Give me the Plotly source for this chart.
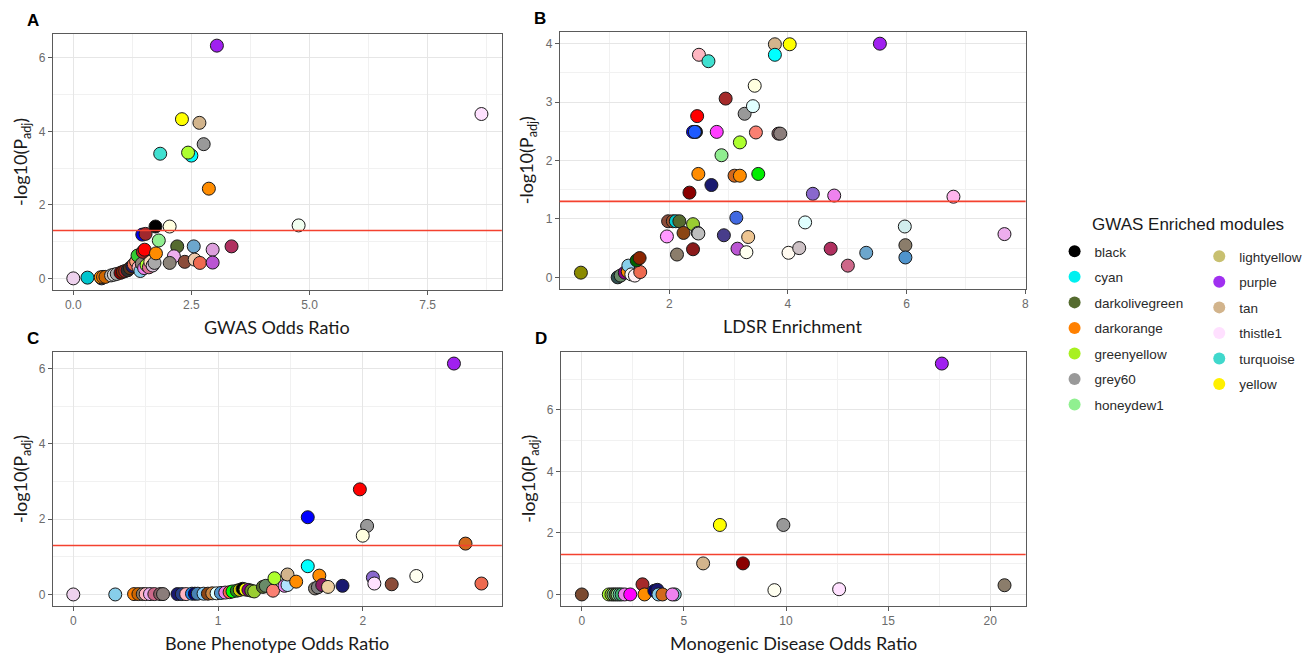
import plotly.graph_objects as go

# ---------------- data ----------------
THRESHOLD = 1.3  # -log10(0.05)

# Panel A: GWAS odds ratio
a_x = [0.00, 0.30, 0.60, 0.58, 0.63, 0.68, 0.80, 0.86, 0.92, 1.00, 1.05, 1.10, 1.15, 1.20, 1.25,
       1.28, 1.33, 1.36, 1.38, 1.42, 1.45, 1.50, 1.55, 1.60, 1.63, 1.68, 1.72, 1.47, 1.51, 1.75,
       1.46, 1.53, 1.74, 2.04, 1.81, 2.20, 2.55, 2.95, 3.35, 2.13, 2.04, 2.36, 2.57, 2.68, 2.95,
       1.84, 2.50, 2.43, 2.30, 2.67, 2.76, 2.87, 3.04, 4.77, 8.64]
a_y = [0.00, 0.02, 0.00, 0.03, 0.04, 0.04, 0.08, 0.10, 0.12, 0.15, 0.18, 0.20, 0.22, 0.28, 0.33,
       0.38, 0.46, 0.62, 0.30, 0.20, 0.40, 0.28, 0.36, 0.30, 0.45, 0.35, 0.42, 0.72, 0.78, 0.68,
       1.19, 1.21, 1.41, 1.41, 1.03, 0.87, 0.87, 0.78, 0.87, 0.60, 0.42, 0.45, 0.51, 0.42, 0.43,
       3.39, 3.34, 3.42, 4.33, 4.23, 3.65, 2.44, 6.33, 1.44, 4.47]
a_col = ['#EED2EE', '#00C5CD', '#27408B', '#FF8C00', '#FF7F00', '#CD6600', '#BEBEBE', '#D9D9D9',
         '#A9A9A9', '#8B0000', '#8B2500', '#B22222', '#2F2F2F', '#5C3317', '#191970', '#EE6A50',
         '#FFA07A', '#32CD32', '#FFB6C1', '#87CEEB', '#8B8378', '#EE82EE', '#ADFF2F', '#DB7093',
         '#FFDAB9', '#D8BFD8', '#A9A9A9', '#B22222', '#FF0000', '#FF8C00', '#0000EE', '#A0282D',
         '#000000', '#FFFFE0', '#90EE90', '#556B2F', '#6CA6CD', '#DDA0DD', '#B03060', '#EEAEEE',
         '#8B8378', '#8B4C39', '#EECBAD', '#EE6A50', '#BA55D3', '#40E0D0', '#00FFFF', '#ADFF2F',
         '#FFFF00', '#D2B48C', '#999999', '#FF8C00', '#A020F0', '#F0FFF0', '#FFE1FF']

# Panel B: LDSR enrichment
b_x = [0.51, 1.13, 1.18, 1.25, 1.30, 1.31, 1.36, 1.42, 1.51, 1.45, 1.50,
       1.98, 2.06, 2.11, 2.17, 2.40, 2.48, 2.49, 2.24, 1.96, 2.13, 2.40, 2.92, 3.13, 3.33,
       3.15, 3.30, 4.29, 4.01, 4.19, 4.72, 5.01, 5.32, 5.97, 5.98, 5.98, 6.79, 7.65,
       2.34, 2.71, 2.49, 3.10, 3.19, 3.50, 2.88, 3.19, 2.40, 2.45, 2.43, 2.80, 3.46, 3.84,
       3.87, 2.47, 3.27, 3.41, 2.95, 3.44, 2.50, 2.66, 3.78, 3.78, 4.03, 5.55, 4.42, 4.78]
b_y = [0.08, 0.00, 0.03, 0.08, 0.10, 0.20, 0.05, 0.03, 0.09, 0.29, 0.33,
       0.96, 0.96, 0.96, 0.96, 0.91, 0.76, 0.75, 0.76, 0.70, 0.39, 0.48, 0.72, 1.02, 0.69,
       0.49, 0.43, 0.94, 0.42, 0.50, 0.49, 0.20, 0.42, 0.87, 0.55, 0.34, 1.38, 0.74,
       1.45, 1.58, 1.77, 1.74, 1.74, 1.77, 2.09, 2.31, 2.49, 2.49, 2.49, 2.49, 2.48, 2.46,
       2.46, 2.76, 2.80, 2.93, 3.06, 3.28, 3.81, 3.70, 3.99, 3.81, 3.99, 4.00, 1.43, 1.40]
b_col = ['#8B8B00', '#2F4F4F', '#698B69', '#8B008B', '#FF8C00', '#87CEEB', '#F5F5F5', '#FFF0F5',
         '#EE6A50', '#006400', '#8B2500',
         '#8B4C39', '#A0522D', '#00CED1', '#556B2F', '#9ACD32', '#B0C4DE', '#BEBEBE', '#8B4513',
         '#FF99FF', '#8B7D6B', '#8B1A1A', '#483D8B', '#4169E1', '#EEC591', '#BA55D3', '#FFFFF0',
         '#E0FFFF', '#FFFAF0', '#CDC1C5', '#B03060', '#CD6889', '#6CA6CD', '#D1EEEE', '#8B7D6B',
         '#4F94CD', '#FFB5EE', '#EEAEEE',
         '#8B0000', '#191970', '#FF8C00', '#D2691E', '#FF8C00', '#00EE00', '#90EE90', '#ADFF2F',
         '#0000FF', '#000000', '#1E5AFF', '#FF3EFF', '#FA8072', '#8B5F65', '#8B7D7B', '#FF0000',
         '#999999', '#E0FFFF', '#A52A2A', '#FFFFE0', '#FFB6C1', '#40E0D0', '#D2B48C', '#00FFFF',
         '#FFFF00', '#A020F0', '#8968CD', '#EE82EE']

# Panel C: bone phenotype odds ratio
c_x = [0.00, 0.29, 0.42, 0.45, 0.48, 0.50, 0.53, 0.56, 0.60, 0.62, 0.72, 0.75, 0.78, 0.82,
       0.84, 0.86, 0.90, 0.93, 0.96, 0.99, 1.02, 1.05, 1.08, 1.10, 1.13, 1.15, 1.17, 1.19,
       1.21, 1.23, 1.25, 1.31, 1.33, 1.38, 1.39, 1.46, 1.48, 1.48, 1.54, 1.62, 1.67, 1.69,
       1.70, 1.72, 1.76, 1.86, 1.62, 1.98, 2.03, 2.00, 2.07, 2.08, 2.20, 2.37, 2.63, 2.71, 2.82]
c_y = [0.00, 0.00, 0.01, 0.01, 0.01, 0.01, 0.01, 0.01, 0.01, 0.01, 0.01, 0.01, 0.01, 0.02,
       0.02, 0.02, 0.02, 0.02, 0.03, 0.03, 0.04, 0.05, 0.06, 0.08, 0.10, 0.12, 0.15, 0.13,
       0.12, 0.10, 0.08, 0.20, 0.23, 0.10, 0.43, 0.23, 0.25, 0.53, 0.34, 0.75, 0.16, 0.19,
       0.50, 0.25, 0.20, 0.23, 2.05, 2.79, 1.82, 1.56, 0.45, 0.29, 0.27, 0.49, 6.13, 1.35, 0.29]
c_col = ['#EED2EE', '#87CEEB', '#FF7F00', '#CD6600', '#8B7D6B', '#FFB6C1', '#EEAEEE', '#CD6889',
         '#8B5F65', '#8B7D7B', '#191970', '#27408B', '#FFB6C1', '#1C86EE', '#000080', '#4682B4',
         '#87CEFA', '#8B4513', '#CD853F', '#E0FFFF', '#4F94CD', '#EE82EE', '#FF6347', '#00FF00',
         '#228B22', '#CDCD00', '#000000', '#FFFF00', '#8B008B', '#6B8E23', '#9ACD32', '#556B2F',
         '#698B69', '#FA8072', '#ADFF2F', '#EE82EE', '#B0E2FF', '#D2B48C', '#FF8C00', '#00FFFF',
         '#8B8378', '#7F7F7F', '#FF8C00', '#8B1C62', '#EECFA1', '#191970', '#0000FF', '#FF0000',
         '#999999', '#FFFFE0', '#8968CD', '#FFE1FF', '#8B4C39', '#FFFFF0', '#A020F0', '#D2691E',
         '#EE6A50']

# Panel D: monogenic disease odds ratio
d_x = [0.00, 1.32, 1.45, 1.55, 1.65, 1.75, 1.85, 1.95, 2.10, 2.37, 2.97, 3.07, 3.55, 3.70,
       3.75, 3.95, 4.55, 4.43, 5.94, 6.76, 7.89, 9.43, 9.87, 12.60, 17.63, 20.70]
d_y = [0.00, 0.00, 0.00, 0.00, 0.00, 0.00, 0.00, 0.00, 0.00, 0.00, 0.33, 0.00, 0.12, 0.15,
       0.00, 0.00, 0.00, 0.00, 1.01, 2.26, 1.01, 0.14, 2.26, 0.17, 7.51, 0.30]
d_col = ['#7B4A30', '#ADFF2F', '#9ACD32', '#7CCD7C', '#556B2F', '#90EE90', '#66CDAA', '#3CB371',
         '#EE82EE', '#FF00FF', '#A52A2A', '#FF8C00', '#000080', '#191970', '#87CEEB', '#D2691E',
         '#7AC5CD', '#EE82EE', '#D2B48C', '#FFFF00', '#8B0000', '#FFFFF0', '#999999', '#FFE1FF',
         '#A020F0', '#8B7D6B']

# Legend: GWAS enriched modules
legend_col1 = ['black', 'cyan', 'darkolivegreen', 'darkorange', 'greenyellow', 'grey60', 'honeydew1']
legend_col1_hex = ['#000000', '#00F0F0', '#556B2F', '#FF8000', '#A8F020', '#999999', '#90F090']
legend_col2 = ['lightyellow', 'purple', 'tan', 'thistle1', 'turquoise', 'yellow']
legend_col2_hex = ['#C8C070', '#A030F0', '#D2B48C', '#FFE0FF', '#40D8CC', '#FFF000']

x_titles = ['GWAS Odds Ratio', 'LDSR Enrichment', 'Bone Phenotype Odds Ratio',
            'Monogenic Disease Odds Ratio']
panel_labels = ['A', 'B', 'C', 'D']
x_dticks = [2.5, 2, 1, 5]
y_dticks = [2, 1, 2, 2]

# ---------------- figure ----------------
W, H = 1313, 657
TICK_FONT = dict(family='Liberation Sans, Arial, sans-serif', size=12, color='#6b6b6b')
TITLE_FONT = dict(family='Lato, Open Sans, sans-serif', size=18, color='#1a1a1a')

# panel boxes in pixels: (left, top, right, bottom)
boxes = [(53, 34, 503, 290), (561, 32, 1028, 289), (53, 352, 503, 606), (562, 352, 1028, 606)]


def px_x(v):
    return v / W


def px_y(v):
    return 1 - v / H


def expand(vals):
    lo, hi = min(vals), max(vals)
    span = hi - lo
    return [lo - 0.05 * span, hi + 0.05 * span]


panels = [(a_x, a_y, a_col), (b_x, b_y, b_col), (c_x, c_y, c_col), (d_x, d_y, d_col)]

fig = go.Figure()
layout = dict(width=W, height=H, margin=dict(l=0, r=0, t=0, b=0), autosize=False,
              paper_bgcolor='white', plot_bgcolor='white', showlegend=True,
              annotations=[], shapes=[])

for i, (xs, ys, cols) in enumerate(panels):
    n = '' if i == 0 else str(i + 1)
    fig.add_trace(go.Scatter(
        x=xs, y=ys, mode='markers', xaxis='x' + n, yaxis='y' + n, showlegend=False,
        marker=dict(size=13, color=cols, line=dict(color='#1a1a1a', width=1), opacity=1),
        hoverinfo='x+y'))
    l, t, r, b = boxes[i]
    axis_common = dict(showline=True, mirror=True, linecolor='#5a5a5a', linewidth=1,
                       ticks='outside', ticklen=4, tickcolor='#5a5a5a', tickfont=TICK_FONT,
                       showgrid=True, gridcolor='#e6e6e6', gridwidth=1.1, zeroline=False)
    fmt = '.1f' if i == 0 else ''
    layout['xaxis' + n] = dict(domain=[px_x(l), px_x(r)], anchor='y' + n, range=expand(xs),
                               dtick=x_dticks[i], tick0=0, tickformat=fmt,
                               minor=dict(dtick=x_dticks[i] / 2, tick0=0, showgrid=True,
                                          gridcolor='#f1f1f1', gridwidth=0.8),
                               **axis_common)
    layout['yaxis' + n] = dict(domain=[px_y(b), px_y(t)], anchor='x' + n, range=expand(ys),
                               dtick=y_dticks[i], tick0=0,
                               minor=dict(dtick=y_dticks[i] / 2, tick0=0, showgrid=True,
                                          gridcolor='#f1f1f1', gridwidth=0.8),
                               **axis_common)
    layout['shapes'].append(dict(type='line', xref='x' + n + ' domain', x0=0, x1=1,
                                 yref='y' + n, y0=THRESHOLD, y1=THRESHOLD,
                                 line=dict(color='#F4412F', width=1.6), layer='above'))
    # axis titles
    layout['annotations'].append(dict(text=x_titles[i], xref='paper', yref='paper',
                                      x=px_x((l + r) / 2), y=px_y(b + 37), xanchor='center',
                                      yanchor='middle', showarrow=False, font=TITLE_FONT))
    layout['annotations'].append(dict(text='-log10(P<sub>adj</sub>)', xref='paper', yref='paper',
                                      x=px_x(l - 32), y=px_y((t + b) / 2), xanchor='center',
                                      yanchor='middle', textangle=-90, showarrow=False,
                                      font=TITLE_FONT))
    layout['annotations'].append(dict(text='<b>' + panel_labels[i] + '</b>', xref='paper',
                                      yref='paper', x=px_x(l - 20), y=px_y(t - 14),
                                      xanchor='center', yanchor='middle', showarrow=False,
                                      font=dict(family='Liberation Sans, Arial, sans-serif',
                                                size=17, color='#000000')))

# legend entries (dummy traces showing only in the legend)
for names, hexes, leg in [(legend_col1, legend_col1_hex, 'legend'),
                          (legend_col2, legend_col2_hex, 'legend2')]:
    for nm, hx in zip(names, hexes):
        fig.add_trace(go.Scatter(x=[None], y=[None], mode='markers', name=nm, legend=leg,
                                 legendgroup=nm, marker=dict(size=12, color=hx,
                                                             line=dict(width=0))))

leg_font = dict(family='Liberation Sans, Arial, sans-serif', size=13.5, color='#2a2a2a')
layout['legend'] = dict(x=px_x(1057), y=px_y(236), xanchor='left', yanchor='top',
                        font=leg_font, bgcolor='rgba(0,0,0,0)', tracegroupgap=5,
                        itemwidth=30, itemclick=False)
layout['legend2'] = dict(x=px_x(1202), y=px_y(241), xanchor='left', yanchor='top',
                         font=leg_font, bgcolor='rgba(0,0,0,0)', tracegroupgap=5,
                         itemwidth=30, itemclick=False)
layout['annotations'].append(dict(text='GWAS Enriched modules', xref='paper', yref='paper',
                                  x=px_x(1191), y=px_y(224), xanchor='center', yanchor='middle',
                                  showarrow=False,
                                  font=dict(family='Liberation Sans, Arial, sans-serif',
                                            size=17, color='#1a1a1a')))

fig.update_layout(**layout)
fig.write_html('out.html', config={'displayModeBar': False},
               post_script="document.body.style.margin='0px';"
                           "document.body.style.overflow='hidden';")
